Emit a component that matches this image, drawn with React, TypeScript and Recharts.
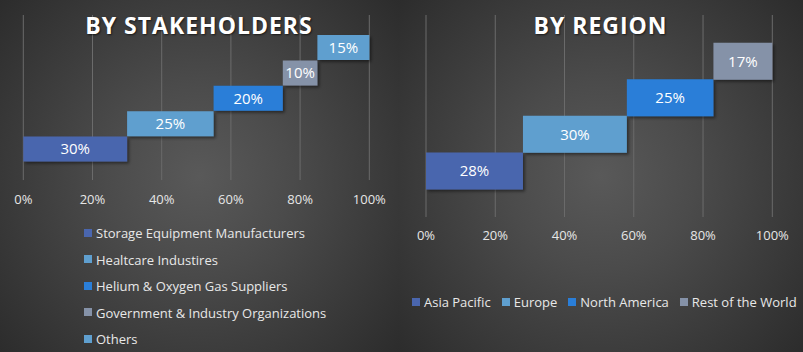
import React from 'react';
import { BarChart, Bar, XAxis, YAxis, CartesianGrid, Cell, LabelList } from 'recharts';

const stakeholderCategories = [
  'Storage Equipment Manufacturers',
  'Healtcare Industires',
  'Helium & Oxygen Gas Suppliers',
  'Government & Industry Organizations',
  'Others',
];
const stakeholderValues = [30, 25, 20, 10, 15];
const stakeholderColors = ['#4a66ae', '#5f9fcf', '#2a7ed8', '#8592a8', '#5f9fcf'];

const regionCategories = ['Asia Pacific', 'Europe', 'North America', 'Rest of the World'];
const regionValues = [28, 30, 25, 17];
const regionColors = ['#4a66ae', '#5f9fcf', '#2a7ed8', '#8592a8'];

const xTicks = [0, 20, 40, 60, 80, 100];

const FONT = '"Open Sans", "Noto Sans", sans-serif';

function buildRows(cats: string[], vals: number[]) {
  let acc = 0;
  return cats.map((name, i) => {
    const row = { name, base: acc, value: vals[i] };
    acc += vals[i];
    return row;
  });
}

const stakeholderRows = buildRows(stakeholderCategories, stakeholderValues);
const regionRows = buildRows(regionCategories, regionValues);

const bg = 'radial-gradient(circle farthest-corner at 50% 50%, #595959 0%, #4b4b4b 35%, #2c2c2c 100%)';

function Waterfall(props: {
  rows: { name: string; base: number; value: number }[];
  colors: string[];
  width: number;
  margin: { top: number; right: number; bottom: number; left: number };
  pad: { top: number; bottom: number };
  tickMargin: number;
  id: string;
}) {
  const { rows, colors, width, margin, pad, tickMargin, id } = props;
  return (
    <BarChart
      width={width}
      height={352}
      data={rows}
      layout="vertical"
      margin={margin}
      barCategoryGap={0}
    >
      <defs>
        <filter id={id} x="-10%" y="-20%" width="130%" height="160%">
          <feDropShadow dx="2" dy="2" stdDeviation="1.5" floodColor="#000" floodOpacity="0.45" />
        </filter>
      </defs>
      <CartesianGrid horizontal={false} stroke="#6b6b6b" strokeWidth={1} />
      <XAxis
        type="number"
        domain={[0, 100]}
        ticks={xTicks}
        tickFormatter={(v: number) => `${v}%`}
        axisLine={false}
        tickLine={false}
        tickMargin={tickMargin}
        height={30}
        interval={0}
        tick={{ fill: '#e6e6e6', fontSize: 13, fontFamily: FONT }}
      />
      <YAxis type="category" dataKey="name" hide reversed padding={pad} />
      <Bar dataKey="base" stackId="s" fill="transparent" isAnimationActive={false} />
      <Bar dataKey="value" stackId="s" isAnimationActive={false}>
        {rows.map((r, i) => (
          <Cell key={r.name} fill={colors[i]} filter={`url(#${id})`} />
        ))}
        <LabelList
          dataKey="value"
          position="center"
          formatter={(v: number) => `${v}%`}
          fill="#ffffff"
          fontSize={15}
          fontFamily={FONT}
        />
      </Bar>
    </BarChart>
  );
}

const titleStyle: React.CSSProperties = {
  position: 'absolute',
  top: 8,
  left: 0,
  width: '100%',
  textAlign: 'center',
  color: '#ffffff',
  fontFamily: FONT,
  fontWeight: 700,
  fontSize: 23,
  letterSpacing: 1,
  lineHeight: '34px',
  textShadow: '1px 1px 2px rgba(0,0,0,0.6)',
};

const legendText: React.CSSProperties = {
  fontFamily: FONT,
  fontSize: 13,
  color: '#e8e8e8',
  whiteSpace: 'nowrap',
};

function Swatch({ color }: { color: string }) {
  return (
    <span
      style={{ display: 'inline-block', width: 8, height: 8, background: color, marginRight: 4, verticalAlign: 'middle' }}
    />
  );
}

export default function App() {
  return (
    <div style={{ position: 'absolute', left: 0, top: 0, width: 803, height: 352, overflow: 'hidden', background: '#2c2c2c' }}>
      <div style={{ position: 'absolute', left: 0, top: 0, width: 398, height: 352, background: bg }}>
        <Waterfall
          rows={stakeholderRows}
          colors={stakeholderColors}
          width={398}
          margin={{ top: 15, right: 28.7, bottom: 142, left: 23.3 }}
          pad={{ top: 20, bottom: 18 }}
          tickMargin={9}
          id="shA"
        />
        <div style={{ ...titleStyle, left: 0, width: 398 }}>BY STAKEHOLDERS</div>
        <div style={{ position: 'absolute', left: 84, top: 222 }}>
          {stakeholderCategories.map((c, i) => (
            <div key={c} style={{ ...legendText, height: 26.5, lineHeight: '18px' }}>
              <Swatch color={stakeholderColors[i]} />
              <span style={{ verticalAlign: 'middle' }}>{c}</span>
            </div>
          ))}
        </div>
      </div>
      <div style={{ position: 'absolute', left: 398, top: 0, width: 405, height: 352, background: bg }}>
        <Waterfall
          rows={regionRows}
          colors={regionColors}
          width={405}
          margin={{ top: 15, right: 30.7, bottom: 105, left: 28 }}
          pad={{ top: 27.7, bottom: 28 }}
          tickMargin={8}
          id="shB"
        />
        <div style={{ ...titleStyle, left: 0, width: 405 }}>BY REGION</div>
        <div style={{ position: 'absolute', left: 14, top: 291, display: 'flex', ...legendText, lineHeight: '18px' }}>
          {regionCategories.map((c, i) => (
            <div key={c} style={{ marginRight: 11 }}>
              <Swatch color={regionColors[i]} />
              <span style={{ verticalAlign: 'middle' }}>{c}</span>
            </div>
          ))}
        </div>
      </div>
    </div>
  );
}
